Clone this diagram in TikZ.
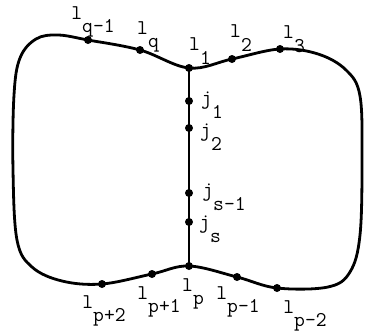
\documentclass[tikz,border=0pt]{standalone}
\newcommand{\tsub}[2]{#1\raisebox{-0.65em}{#2}}
\tikzset{
    dot/.style={circle, fill, inner sep=0pt, minimum size=8pt},
    lab/.style={inner sep=0pt, font=\ttfamily\fontsize{21}{21}\selectfont},
}
\begin{document}
\begin{tikzpicture}[x=1pt, y=-1pt, line width=2.8pt, line join=round]
    \useasboundingbox (0,0) rectangle (365,333);

    % points on the outer cycle
    \node[dot] (l1) at (189,68) {};
    \node[dot] (l2) at (232,59) {};
    \node[dot] (l3) at (280,49) {};
    \node[dot] (lq1) at (88,40) {};
    \node[dot] (lq) at (140,50) {};
    \node[dot] (lp) at (189,266) {};
    \node[dot] (lpm1) at (237,277) {};
    \node[dot] (lpm2) at (277,288) {};
    \node[dot] (lpp1) at (152,274) {};
    \node[dot] (lpp2) at (102,284) {};

    % points on the chord
    \node[dot] (j1) at (189,101) {};
    \node[dot] (j2) at (189,128) {};
    \node[dot] (js1) at (189,193) {};
    \node[dot] (js) at (189,222) {};

    \draw plot[smooth cycle, tension=0.6] coordinates {
        (l1.center) (l2.center) (l3.center) (318,54) (346,70) (360,96)
        (362,160) (360,235) (350,272) (328,287) (lpm2.center) (lpm1.center)
        (lp.center) (lpp1.center) (lpp2.center) (62,281) (32,267) (17,240)
        (13,170) (14,95) (20,58) (36,39) (58,35) (lq1.center) (lq.center)};

    \draw (l1.center) -- (lp.center);

    % labels
    \node[lab] (tq1) at (93,22) {\tsub{l}{q-1}};
    \node[lab] (tq) at (148,37) {\tsub{l}{q}};
    \node[lab] (t1) at (200,51) {\tsub{l}{1}};
    \node[lab] (t2) at (241,38) {\tsub{l}{2}};
    \node[lab] (t3) at (294,39) {\tsub{l}{3}};

    \node[lab] (tj1) at (212,105) {\tsub{j}{1}};
    \node[lab] (tj2) at (211,137) {\tsub{j}{2}};
    \node[lab] (tjs1) at (224,197) {\tsub{j}{s-1}};
    \node[lab] (tjs) at (210,229) {\tsub{j}{s}};

    \node[lab] (tpp2) at (104,311) {\tsub{l}{p+2}};
    \node[lab] (tpp1) at (159,302) {\tsub{l}{p+1}};
    \node[lab] (tp) at (193,294) {\tsub{l}{p}};
    \node[lab] (tpm1) at (238,302) {\tsub{l}{p-1}};
    \node[lab] (tpm2) at (305,316) {\tsub{l}{p-2}};
\end{tikzpicture}
\end{document}
